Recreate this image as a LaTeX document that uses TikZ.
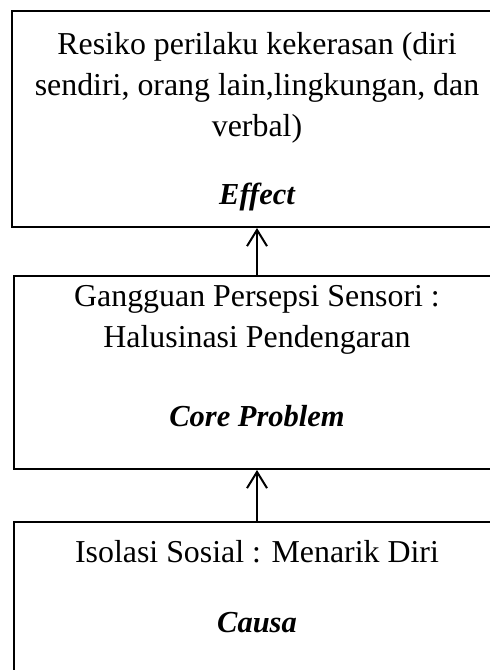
\documentclass[tikz,border=0pt]{standalone}
\usepackage{fontspec}
\setmainfont{Liberation Serif}
\usetikzlibrary{arrows.meta}
\begin{document}
\begin{tikzpicture}[
	x=0.4pt,y=-0.4pt,
	box/.style={draw,line width=0.8pt,minimum width=194.4pt},
	txt/.style={anchor=base,inner sep=0pt,font=\fontsize{12.75}{14}\selectfont},
	lbl/.style={txt,font=\fontsize{12.2}{14}\selectfont\bfseries\itshape},
	edge/.style={line width=0.8pt,-{Straight Barb[length=6.5pt,width=8pt]}}
	]
	\def\cx{257}
	\useasboundingbox[fill=white] (0,0) rectangle (490,670);
	
	\node[box,minimum width=196pt,minimum height=86.4pt] (effect) at (\cx,119) {};
	\node[txt] (e1) at (\cx,55) {Resiko perilaku kekerasan (diri};
	\node[txt] (e2) at (\cx,96) {sendiri, orang lain,lingkungan, dan};
	\node[txt] (e3) at (\cx,137) {verbal)};
	\node[lbl] (e4) at (\cx,205) {Effect};
	
	\node[box,minimum height=77.2pt] (core) at (\cx,372.5) {};
	\node[txt] (c1) at (\cx,307) {Gangguan Persepsi Sensori :};
	\node[txt] (c2) at (\cx,348) {Halusinasi Pendengaran};
	\node[lbl] (c3) at (\cx,427) {Core Problem};
	
	\node[box,minimum height=71.2pt] (causa) at (\cx,611) {};
	\node[txt] (s1) at (\cx,562) {Isolasi Sosial : Menarik Diri};
	\node[lbl] (s2) at (\cx,632) {Causa};
	
	\draw[edge] (core) -- (effect);
	\draw[edge] (causa) -- (core);
\end{tikzpicture}
\end{document}
